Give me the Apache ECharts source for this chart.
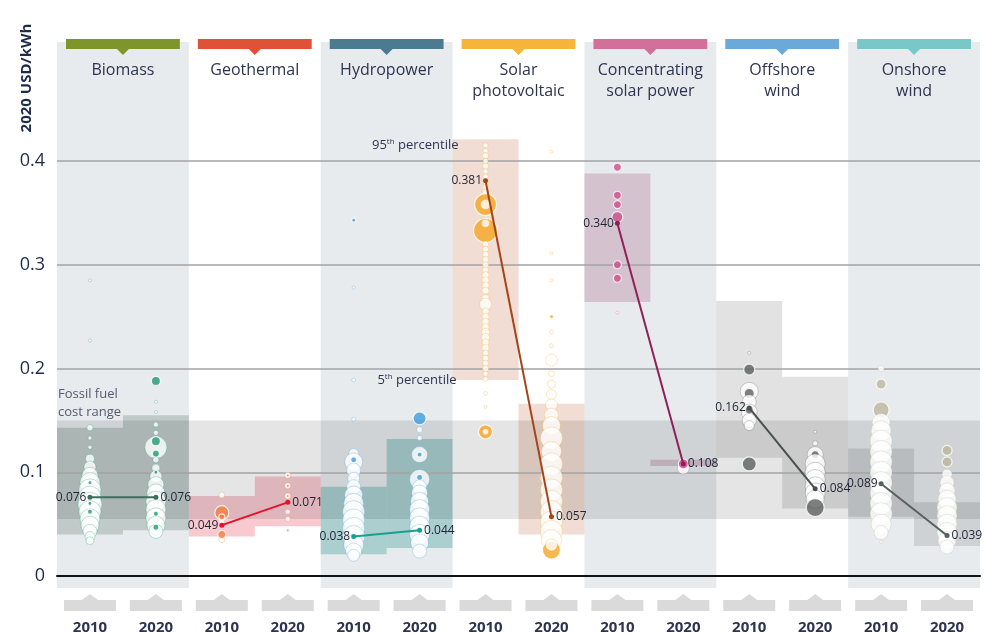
<!DOCTYPE html>
<html>
<head>
<meta charset="utf-8">
<script src="https://cdn.jsdelivr.net/npm/echarts@6/dist/echarts.min.js"></script>
<style>
  html, body { margin: 0; padding: 0; background: #ffffff; }
  #chart { width: 985px; height: 634px; }
</style>
</head>
<body>
<div id="chart"></div>
<script>
// ---- data (2020 USD/kWh) ----
const technologies = ['Biomass', 'Geothermal', 'Hydropower', 'Solar\nphotovoltaic',
  'Concentrating\nsolar power', 'Offshore\nwind', 'Onshore\nwind'];
const years = ['2010', '2020'];
const yTicks = [0, 0.1, 0.2, 0.3, 0.4];

// global weighted averages
const avg2010 = [0.076, 0.049, 0.038, 0.381, 0.340, 0.162, 0.089];
const avg2020 = [0.076, 0.071, 0.044, 0.057, 0.108, 0.084, 0.039];

// 5th / 95th percentile ranges
const p5_2010 = [0.040, 0.038, 0.021, 0.189, 0.264, 0.114, 0.057];
const p95_2010 = [0.143, 0.077, 0.086, 0.421, 0.388, 0.265, 0.123];
const p5_2020 = [0.044, 0.048, 0.027, 0.040, 0.106, 0.065, 0.029];
const p95_2020 = [0.155, 0.096, 0.132, 0.166, 0.112, 0.192, 0.071];

// fossil fuel-fired cost range
const fossilRange = [0.055, 0.150];

// individual projects: [LCOE, capacity, utility-scale flag]
const biomass2010 = [[0.285,3,0],[0.227,3,0],[0.143,6,0],[0.133,4,0],[0.124,4,0],[0.113,9,0],[0.105,12,0],
  [0.097,16,0],[0.090,20,0],[0.083,22,0],[0.076,22,0],[0.069,24,0],[0.062,22,0],[0.055,20,0],[0.049,18,0],
  [0.043,14,0],[0.038,10,0],[0.034,8,0],[0.090,4,1],[0.070,4,1],[0.062,5,1]];
const biomass2020 = [[0.168,3,0],[0.158,3,0],[0.146,5,0],[0.138,5,0],[0.124,22,0],[0.130,9,1],[0.118,7,1],
  [0.112,6,0],[0.104,8,0],[0.096,12,0],[0.088,16,0],[0.080,18,0],[0.072,20,0],[0.064,20,0],[0.056,20,0],
  [0.049,18,0],[0.043,14,0],[0.188,9,1],[0.100,4,1],[0.060,5,1],[0.047,6,1]];
const geothermal2010 = [[0.078,6,0],[0.053,6,0],[0.035,6,0],[0.061,14,1],[0.057,6,1],[0.040,8,1]];
const geothermal2020 = [[0.097,6,0],[0.087,6,0],[0.077,6,0],[0.062,5,0],[0.055,5,0],
  [0.097,3,1],[0.087,3,1],[0.077,3,1],[0.044,3,1]];
const hydro2010 = [[0.278,3,0],[0.189,4,0],[0.151,4,0],[0.118,10,0],[0.110,18,0],[0.102,14,0],
  [0.094,12,0],[0.086,14,0],[0.078,18,0],[0.070,20,0],[0.062,22,0],[0.054,22,0],[0.046,22,0],
  [0.038,22,0],[0.030,20,0],[0.024,16,0],[0.020,12,0],[0.343,4,1],[0.112,6,1]];
const hydro2020 = [[0.141,6,0],[0.133,5,0],[0.117,16,0],[0.093,20,0],[0.086,14,0],[0.080,16,0],
  [0.072,18,0],[0.064,20,0],[0.056,20,0],[0.048,20,0],[0.040,20,0],[0.032,18,0],[0.024,14,0],
  [0.152,13,1],[0.117,5,1],[0.095,6,1]];
const solar2010 = [[0.415,5,0],[0.410,5,0],[0.405,6,0],[0.400,5,0],[0.395,6,0],[0.390,5,0],[0.385,5,0],
  [0.380,6,0],[0.375,6,0],[0.370,6,0],[0.358,22,1],[0.333,24,1],
  [0.358,10,0],[0.340,8,0],[0.320,6,0],[0.315,6,0],[0.310,6,0],[0.305,6,0],[0.300,6,0],[0.295,6,0],
  [0.290,7,0],[0.285,7,0],[0.280,7,0],[0.275,7,0],[0.268,7,0],[0.262,12,0],[0.255,7,0],
  [0.250,7,0],[0.245,7,0],[0.240,7,0],[0.235,8,0],[0.230,8,0],[0.225,7,0],[0.220,7,0],[0.215,6,0],
  [0.210,6,0],[0.205,6,0],[0.200,6,0],[0.195,5,0],[0.190,5,0],[0.176,4,0],
  [0.163,3,0],[0.139,14,1],[0.139,6,0]];
const solar2020 = [[0.409,3,0],[0.311,3,0],[0.285,3,0],[0.250,4,1],[0.235,4,0],[0.222,4,0],[0.208,12,0],
  [0.195,6,0],[0.185,8,0],[0.175,10,0],[0.165,12,0],[0.155,14,0],[0.145,18,0],[0.133,22,0],[0.120,20,0],
  [0.108,22,0],[0.095,22,0],[0.083,22,0],[0.072,22,0],[0.062,22,0],[0.052,22,0],[0.043,22,0],
  [0.035,20,0],[0.025,18,1],[0.030,12,0]];
const csp2010 = [[0.394,8,1],[0.367,8,1],[0.358,8,1],[0.346,11,1],[0.300,8,1],[0.287,8,1],[0.254,3,0]];
const csp2020 = [[0.104,12,0],[0.108,10,1]];
const offshore2010 = [[0.215,3,0],[0.199,11,1],[0.178,18,0],[0.176,10,1],[0.168,14,0],[0.158,16,0],
  [0.150,14,0],[0.145,10,0],[0.160,8,1],[0.108,14,1]];
const offshore2020 = [[0.139,3,0],[0.128,5,0],[0.117,16,0],[0.117,8,1],[0.108,20,0],[0.100,20,0],
  [0.093,20,0],[0.086,20,0],[0.080,20,0],[0.074,18,0],[0.066,18,1]];
const onshore2010 = [[0.200,6,0],[0.185,10,1],[0.160,16,1],[0.148,18,0],[0.140,20,0],[0.130,22,0],
  [0.120,22,0],[0.110,22,0],[0.100,22,0],[0.090,22,0],[0.080,22,0],[0.070,22,0],[0.060,22,0],
  [0.050,20,0],[0.042,14,0],[0.033,3,0]];
const onshore2020 = [[0.121,10,1],[0.110,10,1],[0.098,10,0],[0.090,14,0],[0.082,16,0],[0.074,18,0],
  [0.066,20,0],[0.058,20,0],[0.050,20,0],[0.042,20,0],[0.034,18,0],[0.028,14,0]];

// ---- styling ----
const FONT = '"Open Sans", "DejaVu Sans", sans-serif';
const TEXT = '#2d3452';
const headerColors = ['#7d9629', '#e05238', '#4b7b91', '#f6b43a', '#d2709b', '#6aa9da', '#79c8c7'];
const bubbleColors = ['#1e9a70', '#f08040', '#3d9ddb', '#f5a623', '#cc4d8c', '#5e6060', '#bdb59e'];
const boxColors = ['rgba(80,115,105,0.27)', 'rgba(232,80,100,0.30)', 'rgba(40,150,140,0.32)',
  'rgba(200,120,80,0.25)', 'rgba(150,70,110,0.25)', 'rgba(110,110,110,0.20)', 'rgba(110,110,110,0.20)'];
const lineColors = ['#3e6e5e', '#e8112d', '#17a08f', '#a5441b', '#8e1f5a', '#4a5050', '#566260'];

const columnBubbles = [biomass2010, biomass2020, geothermal2010, geothermal2020, hydro2010, hydro2020,
  solar2010, solar2020, csp2010, csp2020, offshore2010, offshore2020, onshore2010, onshore2020];

function alpha(hex, a) {
  const n = parseInt(hex.slice(1), 16);
  return `rgba(${(n >> 16) & 255},${(n >> 8) & 255},${n & 255},${a})`;
}

// technology panels with header tabs and year tabs
function renderPanel(params, api) {
  const i = api.value(0);
  const cs = params.coordSys;
  const left = api.coord([2 * i, 0])[0];
  const right = api.coord([2 * i + 2, 0])[0];
  const top = cs.y - 119;
  const bottom = cs.y + cs.height + 12;
  const children = [];
  if (i % 2 === 0) {
    children.push({ type: 'rect', shape: { x: left, y: top, width: right - left, height: bottom - top },
      style: { fill: '#e8ebee' } });
  }
  const bx0 = left + 9, bx1 = right - 9, cx = (bx0 + bx1) / 2;
  children.push({ type: 'rect', shape: { x: bx0, y: top - 3, width: bx1 - bx0, height: 10 },
    style: { fill: headerColors[i] } });
  children.push({ type: 'polygon', shape: { points: [[cx - 6, top + 7], [cx + 6, top + 7], [cx, top + 13]] },
    style: { fill: headerColors[i] } });
  children.push({ type: 'text', style: { text: technologies[i], x: (left + right) / 2, y: top + 18,
    align: 'center', verticalAlign: 'top', fill: TEXT, font: '16px ' + FONT, lineHeight: 21 } });
  for (let k = 0; k < 2; k++) {
    const c = api.coord([2 * i + k + 0.5, 0])[0];
    const ty = cs.y + cs.height + 24;
    children.push({ type: 'rect', shape: { x: c - 26, y: ty, width: 52, height: 11 }, style: { fill: '#dadada' } });
    children.push({ type: 'polygon', shape: { points: [[c - 8, ty], [c + 8, ty], [c, ty - 6]] }, style: { fill: '#dadada' } });
    children.push({ type: 'text', style: { text: years[k], x: c, y: ty + 28, align: 'center', verticalAlign: 'middle',
      fill: TEXT, font: 'bold 15px ' + FONT } });
  }
  return { type: 'group', children };
}

// fossil fuel cost band across all technologies
function renderBand(params, api) {
  const pTop = api.coord([api.value(0), api.value(3)]);
  const pBot = api.coord([api.value(1), api.value(2)]);
  return { type: 'group', children: [
    { type: 'rect', shape: { x: pTop[0], y: pTop[1], width: pBot[0] - pTop[0], height: pBot[1] - pTop[1] },
      style: { fill: 'rgba(0,0,0,0.10)' } },
    { type: 'text', style: { text: 'Fossil fuel\ncost range', x: pTop[0] + 1, y: pTop[1] - 35, align: 'left',
      verticalAlign: 'top', fill: '#55596b', font: '13px ' + FONT, lineHeight: 18 } }
  ] };
}

// 5th-95th percentile boxes
function renderBox(params, api) {
  const col = api.value(0);
  const t = api.value(3);
  const p0 = api.coord([col, api.value(2)]);
  const p1 = api.coord([col + 1, api.value(1)]);
  const children = [{ type: 'rect', shape: { x: p0[0], y: p0[1], width: p1[0] - p0[0], height: p1[1] - p0[1] },
    style: { fill: boxColors[t] } }];
  if (col === 6) {
    const rich = { s: { fontSize: 8, verticalAlign: 'top', padding: [0, 0, 6, 0], fill: TEXT, fontFamily: FONT } };
    children.push({ type: 'text', style: { text: '95{s|th} percentile', rich, x: p0[0] + 6, y: p0[1] + 6,
      align: 'right', verticalAlign: 'middle', fill: TEXT, font: '13px ' + FONT } });
    children.push({ type: 'text', style: { text: '5{s|th} percentile', rich, x: p0[0] + 4, y: p1[1],
      align: 'right', verticalAlign: 'middle', fill: TEXT, font: '13px ' + FONT } });
  }
  return { type: 'group', children };
}

const boxData = [];
technologies.forEach((t, i) => {
  boxData.push([2 * i, p5_2010[i], p95_2010[i], i]);
  boxData.push([2 * i + 1, p5_2020[i], p95_2020[i], i]);
});

const series = [
  { type: 'custom', name: 'panels', renderItem: renderPanel, clip: false, z: -3, silent: true,
    data: technologies.map((t, i) => [i]) },
  { type: 'custom', name: 'percentiles', renderItem: renderBox, clip: false, z: -2, silent: true, data: boxData },
  { type: 'custom', name: 'fossil', renderItem: renderBand, clip: false, z: -1, silent: true,
    data: [[0, 14, fossilRange[0], fossilRange[1]]] }
];

technologies.forEach((t, i) => {
  const data = [];
  [0, 1].forEach(k => {
    const col = 2 * i + k;
    columnBubbles[col].forEach(([v, cap, solid]) => {
      data.push({ value: [col + 0.5, v, cap],
        itemStyle: solid
          ? { color: bubbleColors[i], borderColor: '#ffffff', borderWidth: 1.2 }
          : { color: '#ffffff', borderColor: alpha(bubbleColors[i], 0.4), borderWidth: 0.9 } });
    });
  });
  series.push({ type: 'scatter', name: t + ' projects', data, symbol: 'circle',
    symbolSize: v => v[2], z: 3, silent: true, clip: false });
});

technologies.forEach((t, i) => {
  series.push({ type: 'line', name: t + ' average', z: 5, silent: true,
    symbol: 'circle', symbolSize: 5,
    lineStyle: { color: lineColors[i], width: 2 }, itemStyle: { color: lineColors[i] },
    label: { show: true, color: '#1f2436', fontSize: 12, fontFamily: FONT,
      formatter: p => p.value[1].toFixed(3) },
    data: [
      { value: [2 * i + 0.5, avg2010[i]], label: { position: 'left', distance: 1 } },
      { value: [2 * i + 1.5, avg2020[i]], label: { position: 'right', distance: 2 } }
    ] });
});

const chart = echarts.init(document.getElementById('chart'), null, { renderer: 'canvas' });
chart.setOption({
  animation: false,
  backgroundColor: '#ffffff',
  grid: { left: 57, right: 5, top: 161, bottom: 58 },
  xAxis: { type: 'value', min: 0, max: 14, axisTick: { show: false }, axisLabel: { show: false },
    splitLine: { show: false }, axisLine: { show: true, lineStyle: { color: '#111111', width: 2 } } },
  yAxis: { type: 'value', min: yTicks[0], max: yTicks[yTicks.length - 1], interval: 0.1,
    axisLine: { show: false }, axisTick: { show: false },
    axisLabel: { margin: 12, color: '#1e2a4a', fontSize: 18, fontFamily: FONT,
      formatter: v => (v === 0 ? '0' : v.toFixed(1)) },
    splitLine: { lineStyle: { color: '#a3a3a3', width: 1.5 } } },
  graphic: [{ type: 'text', x: 27, y: 78, rotation: Math.PI / 2,
    style: { text: '2020 USD/kWh', align: 'center', verticalAlign: 'middle', fill: '#1e2a4a',
      font: 'bold 15px ' + FONT } }],
  series
});
</script>
</body>
</html>
